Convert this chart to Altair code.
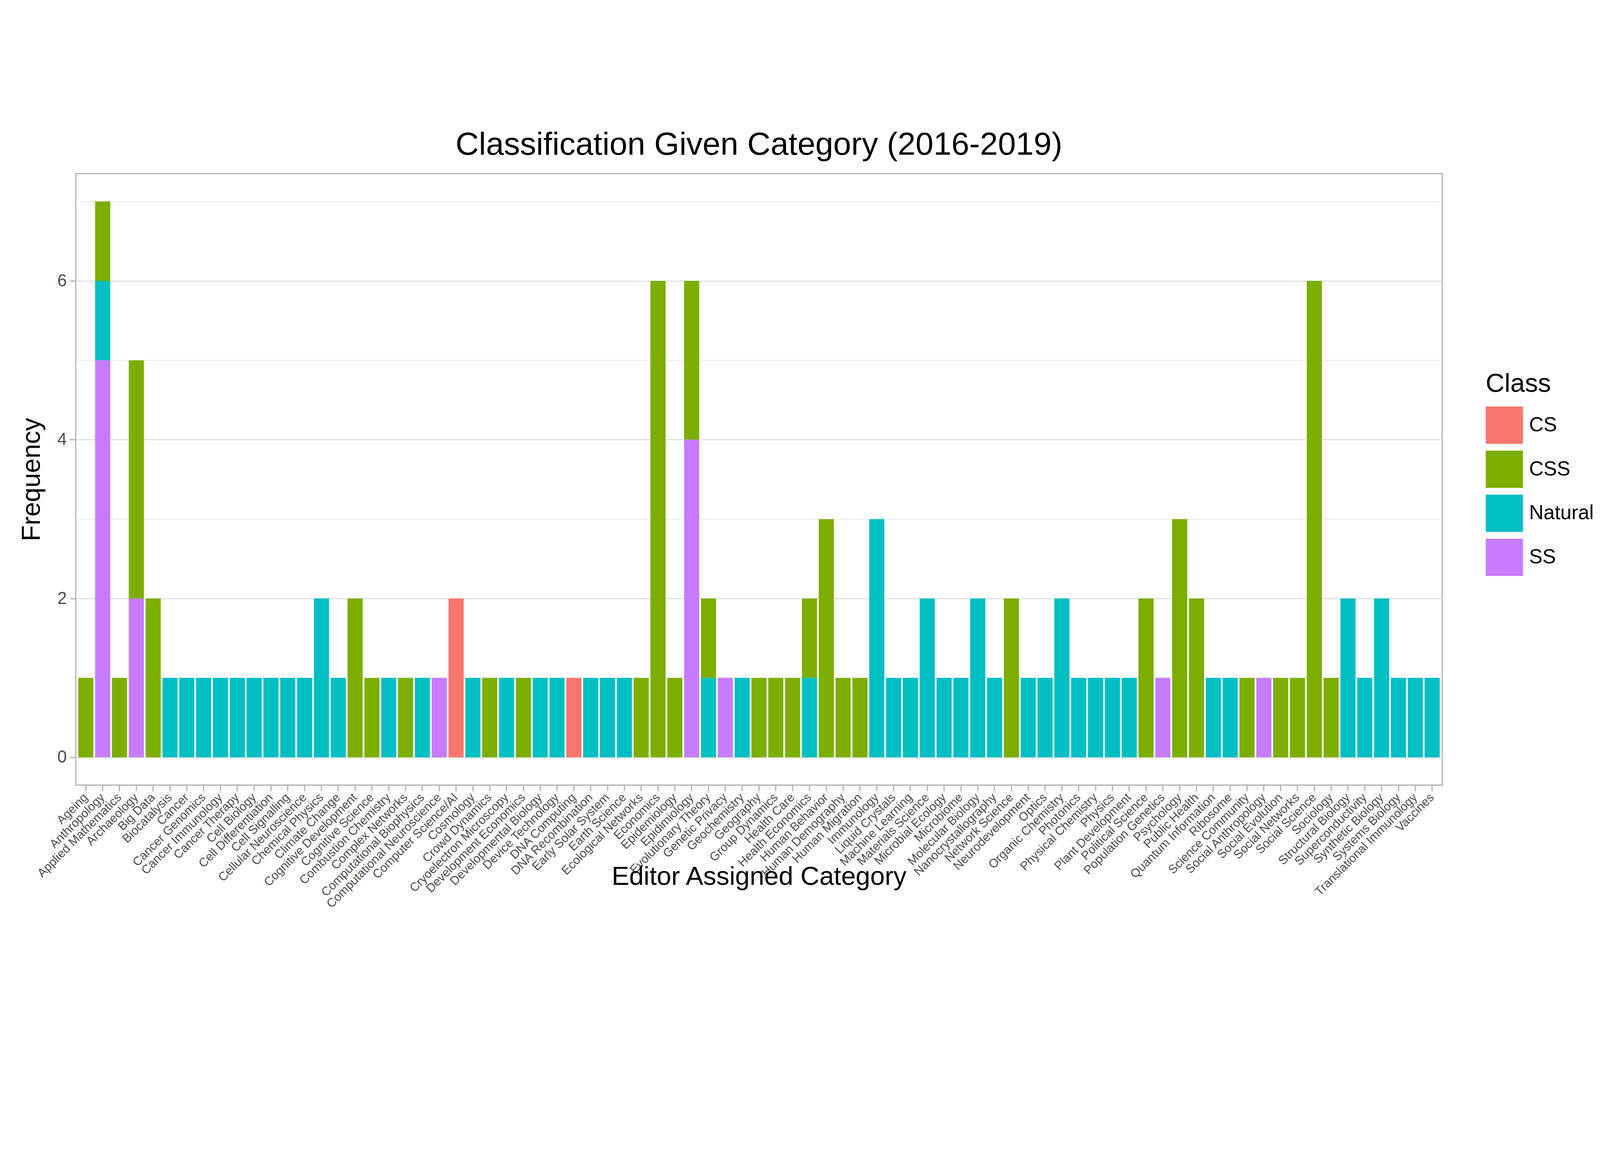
import altair as alt
import pandas as pd

CATEGORIES = [
    "Ageing", "Anthropology", "Applied Mathematics", "Archaeology", "Big Data",
    "Biocatalysis", "Cancer", "Cancer Genomics", "Cancer Immunology", "Cancer Therapy",
    "Cell Biology", "Cell Differentiation", "Cell Signalling", "Cellular Neuroscience", "Chemical Physics",
    "Climate Change", "Cognitive Development", "Cognitive Science", "Combustion Chemistry", "Complex Networks",
    "Computational Biophysics", "Computational Neuroscience", "Computer Science/AI", "Cosmology", "Crowd Dynamics",
    "Cryoelectron Microscopy", "Development Economics", "Developmental Biology", "Device Technology", "DNA Computing",
    "DNA Recombination", "Early Solar System", "Earth Science", "Ecological Networks", "Economics",
    "Epidemiology", "Epidimiology", "Evolutionary Theory", "Genetic Privacy", "Geochemistry",
    "Geography", "Group Dynamics", "Health Care", "Health Economics", "Human Behavior",
    "Human Demography", "Human Migration", "Immunology", "Liquid Crystals", "Machine Learning",
    "Materials Science", "Microbial Ecology", "Microbiome", "Molecular Biology", "Nanocrystallography",
    "Network Science", "Neurodevelopment", "Optics", "Organic Chemistry", "Photonics",
    "Physical Chemistry", "Physics", "Plant Development", "Political Science", "Population Genetics",
    "Psychology", "Public Health", "Quantum Information", "Ribosome", "Science Community",
    "Social Anthropology", "Social Evolution", "Social Networks", "Social Science", "Sociology",
    "Structural Biology", "Superconductivity", "Synthetic Biology", "Systems Biology", "Translational Immunology",
    "Vaccines",
]

CS = [
    0, 0, 0, 0, 0, 0, 0, 0, 0, 0,
    0, 0, 0, 0, 0, 0, 0, 0, 0, 0,
    0, 0, 2, 0, 0, 0, 0, 0, 0, 1,
    0, 0, 0, 0, 0, 0, 0, 0, 0, 0,
    0, 0, 0, 0, 0, 0, 0, 0, 0, 0,
    0, 0, 0, 0, 0, 0, 0, 0, 0, 0,
    0, 0, 0, 0, 0, 0, 0, 0, 0, 0,
    0, 0, 0, 0, 0, 0, 0, 0, 0, 0,
    0,
]
CSS = [
    1, 1, 1, 3, 2, 0, 0, 0, 0, 0,
    0, 0, 0, 0, 0, 0, 2, 1, 0, 1,
    0, 0, 0, 0, 1, 0, 1, 0, 0, 0,
    0, 0, 0, 1, 6, 1, 2, 1, 0, 0,
    1, 1, 1, 1, 3, 1, 1, 0, 0, 0,
    0, 0, 0, 0, 0, 2, 0, 0, 0, 0,
    0, 0, 0, 2, 0, 3, 2, 0, 0, 1,
    0, 1, 1, 6, 1, 0, 0, 0, 0, 0,
    0,
]
NATURAL = [
    0, 1, 0, 0, 0, 1, 1, 1, 1, 1,
    1, 1, 1, 1, 2, 1, 0, 0, 1, 0,
    1, 0, 0, 1, 0, 1, 0, 1, 1, 0,
    1, 1, 1, 0, 0, 0, 0, 1, 0, 1,
    0, 0, 0, 1, 0, 0, 0, 3, 1, 1,
    2, 1, 1, 2, 1, 0, 1, 1, 2, 1,
    1, 1, 1, 0, 0, 0, 0, 1, 1, 0,
    0, 0, 0, 0, 0, 2, 1, 2, 1, 1,
    1,
]
SS = [
    0, 5, 0, 2, 0, 0, 0, 0, 0, 0,
    0, 0, 0, 0, 0, 0, 0, 0, 0, 0,
    0, 1, 0, 0, 0, 0, 0, 0, 0, 0,
    0, 0, 0, 0, 0, 0, 4, 0, 1, 0,
    0, 0, 0, 0, 0, 0, 0, 0, 0, 0,
    0, 0, 0, 0, 0, 0, 0, 0, 0, 0,
    0, 0, 0, 0, 1, 0, 0, 0, 0, 0,
    1, 0, 0, 0, 0, 0, 0, 0, 0, 0,
    0,
]

CLASSES = ["CS", "CSS", "Natural", "SS"]
COLORS = ["#F8766D", "#7CAE00", "#00BFC4", "#C77CFF"]
STACK = {"SS": 0, "Natural": 1, "CSS": 2, "CS": 3}  # SS onderaan

rows = []
for cls, vals in zip(CLASSES, [CS, CSS, NATURAL, SS]):
    for cat, v in zip(CATEGORIES, vals):
        if v:
            rows.append({"cat": cat, "Class": cls, "n": v, "ord": STACK[cls]})
df = pd.DataFrame(rows)

FONT = "Liberation Sans"

bars = alt.Chart(df).mark_bar().encode(
    x=alt.X(
        "cat:N",
        sort=CATEGORIES,
        title="Editor Assigned Category",
        scale=alt.Scale(paddingInner=0.1, paddingOuter=0.15),
        axis=alt.Axis(
            labelAngle=-45, labelAlign="right", labelBaseline="middle",
            labelFontSize=40, labelColor="#4d4d4d", labelPadding=14, labelLimit=0,
            bandPosition=0.5, gridColor="#dedede", gridWidth=3,
            tickColor="#b3b3b3", tickWidth=4, tickSize=20, domain=False,
            titleFontSize=86, titleFontWeight="normal", titleColor="black",
            titlePadding=60, labelOverlap=False,
        ),
    ),
    y=alt.Y(
        "n:Q",
        stack="zero",
        title="Frequency",
        scale=alt.Scale(domain=[-0.35, 7.35], nice=False, zero=False),
        axis=alt.Axis(
            values=[0, 1, 2, 3, 4, 5, 6, 7],
            labelExpr="datum.value % 2 === 0 ? datum.label : ''",
            gridWidth={"expr": "datum.value % 2 === 0 ? 3.5 : 1.8"},
            tickOpacity={"expr": "datum.value % 2 === 0 ? 1 : 0"},
            gridColor="#dedede", tickColor="#b3b3b3", tickWidth=4, tickSize=20,
            labelFontSize=56, labelColor="#4d4d4d", labelPadding=10, domain=False,
            titleFontSize=86, titleFontWeight="normal", titleColor="black",
            titlePadding=40,
        ),
    ),
    color=alt.Color(
        "Class:N",
        scale=alt.Scale(domain=CLASSES, range=COLORS),
        legend=alt.Legend(
            orient="none", legendX=4640, legendY=650,
            symbolType="square", symbolSize=15000, symbolStrokeWidth=0,
            symbolOpacity=1, rowPadding=22, labelFontSize=66, labelOffset=20,
            labelLimit=0, titleLimit=0,
            titleFontSize=86, titleFontWeight="normal", titleColor="black",
            labelColor="black", titlePadding=30,
        ),
    ),
    order=alt.Order("ord:Q", sort="ascending"),
)

chart = bars.properties(
    width=4497,
    height=2012,
    padding={"left": 50, "top": 40, "right": 10, "bottom": 10},
    title=alt.Title(
        "Classification Given Category (2016-2019)",
        fontSize=106, fontWeight="normal", color="black", offset=40, anchor="middle",
    ),
).configure(font=FONT).configure_view(
    stroke="#b3b3b3", strokeWidth=4
).configure_legend(symbolStrokeColor="transparent")

chart.save("out.html", embed_options={"renderer": "svg", "actions": False})
